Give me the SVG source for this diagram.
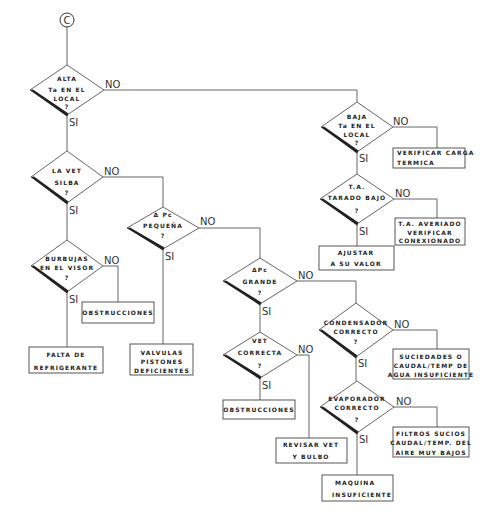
<svg xmlns="http://www.w3.org/2000/svg" width="497" height="524" viewBox="0 0 497 524">
<style>
.bg{fill:#ffffff}
.ln{fill:none;stroke:#555;stroke-width:0.9}
.dm{fill:#fff;stroke:#555;stroke-width:0.9}
.sh{fill:#222;stroke:none}
.bx{fill:#fff;stroke:#444;stroke-width:0.9}
.t{font-family:"DejaVu Sans",sans-serif;font-size:6px;letter-spacing:1.1px;fill:#222;text-anchor:middle;font-weight:bold}
.tl{font-family:"DejaVu Sans",sans-serif;font-size:6px;letter-spacing:1.1px;fill:#222;font-weight:bold}
.lb{font-family:"DejaVu Sans",sans-serif;font-size:10px;fill:#333}
</style>
<rect class="bg" width="497" height="524"/>
<g id="connectors">
<path class="ln" d="M67,27 V65"/>
<path class="ln" d="M104,90 H357 V102"/>
<path class="ln" d="M67,115 V151"/>
<path class="ln" d="M103,177 H163 V207"/>
<path class="ln" d="M67,203 V240"/>
<path class="ln" d="M103,266 H118 V302"/>
<path class="ln" d="M67,292 V347"/>
<path class="ln" d="M199,228 H260 V258"/>
<path class="ln" d="M163,249 V344"/>
<path class="ln" d="M297,281 H356 V303"/>
<path class="ln" d="M260,304 V332"/>
<path class="ln" d="M297,355 H309 V438"/>
<path class="ln" d="M260,378 V400"/>
<path class="ln" d="M393,127 H437 V148"/>
<path class="ln" d="M357,152 V174"/>
<path class="ln" d="M394,199 H437 V218"/>
<path class="ln" d="M357,224 V246"/>
<path class="ln" d="M393,330 H437 V349"/>
<path class="ln" d="M356,357 V381"/>
<path class="ln" d="M394,407 H437 V427"/>
<path class="ln" d="M357,433 V475"/>
</g>
<g id="start">
<circle cx="67" cy="20" r="7" fill="#fff" stroke="#333" stroke-width="1"/>
<text class="lb" x="67" y="24" text-anchor="middle" font-size="10">C</text>
</g>
<g id="d1">
<polygon class="dm" points="67,65 104,90 67,115 30,90"/>
<polygon class="sh" points="30,90 67,116.5 68.5,113.5 33,89.5"/>
<text class="t" x="67" y="81">ALTA</text>
<text class="t" x="67" y="92">Ta EN EL</text>
<text class="t" x="67" y="101">LOCAL</text>
<text class="t" x="67" y="109">?</text>
<text class="lb" x="105" y="88">NO</text>
<text class="lb" x="69" y="126">SI</text>
</g>
<g id="d2">
<polygon class="dm" points="67,151 103,177 67,203 31,177"/>
<polygon class="sh" points="31,177 67,204.5 68.5,201.5 34,176.5"/>
<text class="t" x="67" y="173">LA VET</text>
<text class="t" x="67" y="185">SILBA</text>
<text class="t" x="67" y="195">?</text>
<text class="lb" x="104" y="175">NO</text>
<text class="lb" x="69" y="214">SI</text>
</g>
<g id="d3">
<polygon class="dm" points="67,240 103,266 67,292 31,266"/>
<polygon class="sh" points="31,266 67,293.5 68.5,290.5 34,265.5"/>
<text class="t" x="67" y="261">BURBUJAS</text>
<text class="t" x="67" y="270">EN EL VISOR</text>
<text class="t" x="67" y="280">?</text>
<text class="lb" x="104" y="264">NO</text>
<text class="lb" x="69" y="303">SI</text>
</g>
<g id="b-obstr1">
<rect class="bx" x="82" y="302" width="72" height="21"/>
<text class="t" x="118" y="315">OBSTRUCCIONES</text>
</g>
<g id="b-falta">
<rect class="bx" x="29" y="347" width="74" height="26"/>
<text class="t" x="66" y="357">FALTA DE</text>
<text class="t" x="66" y="370">REFRIGERANTE</text>
</g>
<g id="d4">
<polygon class="dm" points="163,207 199,228 163,249 127,228"/>
<polygon class="sh" points="127,228 163,250.5 164.5,247.5 130,227.5"/>
<text class="t" x="163" y="217">Δ Pc</text>
<text class="t" x="163" y="228">PEQUEÑA</text>
<text class="t" x="163" y="238">?</text>
<text class="lb" x="200" y="225">NO</text>
<text class="lb" x="165" y="260">SI</text>
</g>
<g id="b-valvulas">
<rect class="bx" x="130" y="344" width="63" height="31"/>
<text class="t" x="162" y="355">VALVULAS</text>
<text class="t" x="162" y="364">PISTONES</text>
<text class="t" x="162" y="373">DEFICIENTES</text>
</g>
<g id="d5">
<polygon class="dm" points="260,258 297,281 260,304 223,281"/>
<polygon class="sh" points="223,281 260,305.5 261.5,302.5 226,280.5"/>
<text class="t" x="260" y="272">ΔPc</text>
<text class="t" x="260" y="284">GRANDE</text>
<text class="t" x="260" y="295">?</text>
<text class="lb" x="298" y="279">NO</text>
<text class="lb" x="262" y="315">SI</text>
</g>
<g id="d6">
<polygon class="dm" points="260,332 297,355 260,378 223,355"/>
<polygon class="sh" points="223,355 260,379.5 261.5,376.5 226,354.5"/>
<text class="t" x="260" y="343">VET</text>
<text class="t" x="260" y="355">CORRECTA</text>
<text class="t" x="260" y="368">?</text>
<text class="lb" x="298" y="353">NO</text>
<text class="lb" x="262" y="389">SI</text>
</g>
<g id="b-obstr2">
<rect class="bx" x="223" y="400" width="72" height="19"/>
<text class="t" x="259" y="412">OBSTRUCCIONES</text>
</g>
<g id="b-revisar">
<rect class="bx" x="276" y="438" width="71" height="25"/>
<text class="t" x="311" y="447">REVISAR  VET</text>
<text class="t" x="311" y="459">Y BULBO</text>
</g>
<g id="d7">
<polygon class="dm" points="357,102 393,127 357,152 321,127"/>
<polygon class="sh" points="321,127 357,153.5 358.5,150.5 324,126.5"/>
<text class="t" x="357" y="119">BAJA</text>
<text class="t" x="357" y="128">Ta EN EL</text>
<text class="t" x="357" y="137">LOCAL</text>
<text class="t" x="357" y="145">?</text>
<text class="lb" x="393" y="125">NO</text>
<text class="lb" x="359" y="162">SI</text>
</g>
<g id="b-verificar">
<rect class="bx" x="393" y="148" width="72" height="20"/>
<text class="tl" x="397" y="155">VERIFICAR CARGA</text>
<text class="tl" x="397" y="165">TERMICA</text>
</g>
<g id="d8">
<polygon class="dm" points="357,174 394,199 357,224 320,199"/>
<polygon class="sh" points="320,199 357,225.5 358.5,222.5 323,198.5"/>
<text class="t" x="357" y="189">T.A.</text>
<text class="t" x="357" y="200">TARADO BAJO</text>
<text class="t" x="357" y="213">?</text>
<text class="lb" x="395" y="197">NO</text>
<text class="lb" x="359" y="235">SI</text>
</g>
<g id="b-averiado">
<rect class="bx" x="395" y="218" width="70" height="27"/>
<text class="t" x="430" y="226">T.A. AVERIADO</text>
<text class="t" x="430" y="235">VERIFICAR</text>
<text class="t" x="430" y="243">CONEXIONADO</text>
</g>
<g id="b-ajustar">
<rect class="bx" x="319" y="246" width="75" height="24"/>
<text class="t" x="356" y="255">AJUSTAR</text>
<text class="t" x="356" y="266">A SU VALOR</text>
</g>
<g id="d9">
<polygon class="dm" points="356,303 393,330 356,357 319,330"/>
<polygon class="sh" points="319,330 356,358.5 357.5,355.5 322,329.5"/>
<text class="t" x="356" y="325">CONDENSADOR</text>
<text class="t" x="356" y="334">CORRECTO</text>
<text class="t" x="356" y="344">?</text>
<text class="lb" x="394" y="328">NO</text>
<text class="lb" x="358" y="367">SI</text>
</g>
<g id="b-suciedades">
<rect class="bx" x="393" y="349" width="76" height="30"/>
<text class="t" x="431" y="359">SUCIEDADES O</text>
<text class="t" x="431" y="368">CAUDAL/TEMP DE</text>
<text class="t" x="431" y="377">AGUA INSUFICIENTE</text>
</g>
<g id="d10">
<polygon class="dm" points="357,381 394,407 357,433 320,407"/>
<polygon class="sh" points="320,407 357,434.5 358.5,431.5 323,406.5"/>
<text class="t" x="357" y="401">EVAPORADOR</text>
<text class="t" x="357" y="410">CORRECTO</text>
<text class="t" x="357" y="422">?</text>
<text class="lb" x="396" y="405">NO</text>
<text class="lb" x="359" y="443">SI</text>
</g>
<g id="b-filtros">
<rect class="bx" x="393" y="427" width="76" height="30"/>
<text class="t" x="431" y="436">FILTROS SUCIOS</text>
<text class="t" x="431" y="445">CAUDAL/TEMP. DEL</text>
<text class="t" x="431" y="455">AIRE MUY BAJOS</text>
</g>
<g id="b-maquina">
<rect class="bx" x="322" y="475" width="71" height="26"/>
<text class="tl" x="335" y="485">MAQUINA</text>
<text class="tl" x="332" y="497">INSUFICIENTE</text>
</g>
</svg>
